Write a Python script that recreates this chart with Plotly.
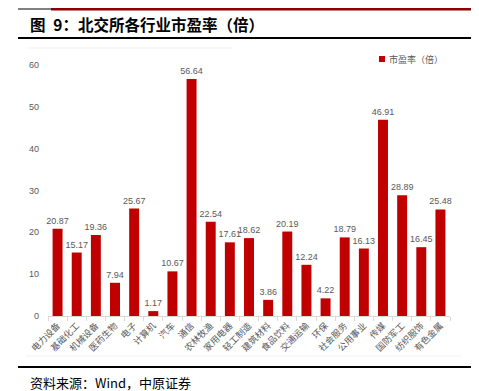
import plotly.graph_objects as go

categories = ["电力设备", "基础化工", "机械设备", "医药生物", "电子", "计算机", "汽车", "通信",
              "农林牧渔", "家用电器", "轻工制造", "建筑材料", "食品饮料", "交通运输", "环保",
              "社会服务", "公用事业", "传媒", "国防军工", "纺织服饰", "有色金属"]
pe_values = [20.87, 15.17, 19.36, 7.94, 25.67, 1.17, 10.67, 56.64, 22.54, 17.61, 18.62,
             3.86, 20.19, 12.24, 4.22, 18.79, 16.13, 46.91, 28.89, 16.45, 25.48]
value_labels = [f"{v:.2f}" for v in pe_values]
series_name = "市盈率（倍）"
y_ticks = [0, 10, 20, 30, 40, 50, 60]

W, H = 479, 391
L, R, T, B = 40, 442, 57, 308

def px(x):
    return (x - L) / (R - L)

def py(y):
    return (B - y) / (B - T)

fig = go.Figure()
fig.add_trace(go.Bar(
    x=categories, y=pe_values, name=series_name, showlegend=False,
    marker=dict(color="#C00000", line=dict(width=0)),
    text=value_labels, textposition="outside", constraintext="none",
    textfont=dict(size=9, color="#595959", family="Liberation Sans"),
    cliponaxis=False, width=0.52,
))

shapes = [
    dict(type="line", xref="paper", yref="paper", x0=px(10), x1=px(43), y0=py(1), y1=py(1),
         line=dict(color="#000000", width=1)),
    dict(type="rect", xref="paper", yref="paper", x0=px(43), x1=px(470), y0=py(0), y1=py(2.5),
         line=dict(width=0), fillcolor="#8B0000"),
    dict(type="line", xref="paper", yref="paper", x0=px(10), x1=px(470), y0=py(30), y1=py(30),
         line=dict(color="#000000", width=2)),
    dict(type="line", xref="paper", yref="paper", x0=px(18), x1=px(225), y0=py(40), y1=py(40),
         line=dict(color="#f2f2f2", width=1)),
    dict(type="line", xref="paper", yref="paper", x0=px(18), x1=px(453), y0=py(348), y1=py(348),
         line=dict(color="#f2f2f2", width=1)),
    dict(type="line", xref="paper", yref="paper", x0=px(10), x1=px(470), y0=py(359), y1=py(359),
         line=dict(color="#000000", width=2)),
    # legend swatch
    dict(type="rect", xref="paper", yref="paper", x0=px(371), x1=px(377), y0=py(48), y1=py(54),
         line=dict(width=0), fillcolor="#C00000"),
]

annotations = [
    dict(text="<b>图\u20029：北交所各行业市盈率（倍）</b>", xref="paper", yref="paper",
         x=px(20), y=py(16), xanchor="left", yanchor="middle", showarrow=False,
         font=dict(size=15.5, color="#000000", family="Noto Sans CJK SC")),
    dict(text="资料来源：Wind，中原证券", xref="paper", yref="paper",
         x=px(20), y=py(374), xanchor="left", yanchor="middle", showarrow=False,
         font=dict(size=13, color="#000000", family="Noto Sans CJK SC")),
    dict(text=series_name, xref="paper", yref="paper",
         x=px(379), y=py(51), xanchor="left", yanchor="middle", showarrow=False,
         font=dict(size=9, color="#595959", family="Noto Sans CJK SC")),
]

fig.update_layout(
    width=W, height=H,
    margin=dict(l=L, r=W - R, t=T, b=H - B, pad=0),
    paper_bgcolor="white", plot_bgcolor="white",
    font=dict(family="Noto Sans CJK SC", color="#595959"),
    showlegend=False,
    bargap=0.48,
    shapes=shapes, annotations=annotations,
    xaxis=dict(type="category", tickangle=-45, tickfont=dict(size=9, color="#595959"),
               showline=True, linecolor="#d9d9d9", linewidth=1,
               ticks="outside", tickson="boundaries", ticklen=4, tickcolor="#d9d9d9",
               showgrid=False, fixedrange=True),
    yaxis=dict(range=[0, 60], tickvals=y_ticks,
               tickfont=dict(size=9, color="#595959", family="Liberation Sans"),
               showgrid=False, zeroline=False, showline=False, ticks="", ticklabelstandoff=8),
)

fig.write_html("out.html")
